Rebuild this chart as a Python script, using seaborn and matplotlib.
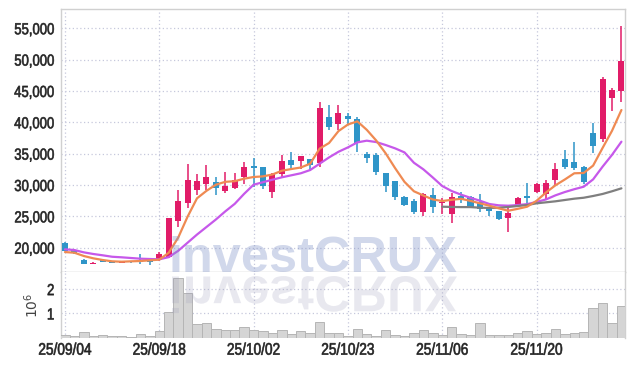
import numpy as np
import matplotlib
matplotlib.use("Agg")
import matplotlib.pyplot as plt
import seaborn as sns
from matplotlib import font_manager
from matplotlib.textpath import TextPath
from matplotlib.patches import PathPatch
from matplotlib.font_manager import FontProperties
from matplotlib.transforms import Affine2D, IdentityTransform
from matplotlib.patheffects import AbstractPathEffect

# ---------------- data ----------------
date_labels = ["25/09/04", "25/09/18", "25/10/02", "25/10/23", "25/11/06", "25/11/20"]
date_label_pos = [0, 10, 20, 30, 40, 50]

opens = [20800, 19700, 18000, 17450, 18100, 17880, 17600, 17800, 18000, 17850,
         18050, 18500, 24300, 27200, 29150, 30150, 30450, 29100, 29600, 31250,
         33050, 32850, 28950, 31700, 34000, 33850, 34150, 33550, 40900, 39800,
         41050, 40550, 34950, 34800, 31850, 30650, 28150, 27450, 25750, 28400,
         27150, 25350, 28300, 28150, 27350, 26300, 25850, 24800, 26700, 28300,
         28950, 28500, 30800, 34150, 33600, 32800, 38350, 37350, 43950, 45050]
highs = [20850, 19750, 18200, 17650, 18250, 17950, 17900, 17950, 18950, 18000,
         19300, 24750, 29200, 33350, 31700, 33250, 31300, 32000, 31900, 33600,
         34250, 32900, 31900, 34750, 35250, 34650, 34200, 43200, 42750, 42750,
         41550, 40800, 35200, 35050, 31900, 30700, 28250, 27700, 28700, 29450,
         27900, 28700, 28900, 28200, 28550, 26550, 25900, 26300, 28100, 30400,
         30400, 30800, 33450, 35600, 36800, 33050, 39850, 47300, 45400, 55350]
lows = [19400, 19050, 17350, 17350, 17650, 17500, 17500, 17600, 17400, 17300,
        17950, 18300, 23250, 26300, 28400, 29200, 28400, 28800, 29300, 30100,
        29750, 29400, 27950, 31300, 32400, 32500, 32300, 32900, 38750, 38750,
        39550, 35300, 33450, 31600, 28950, 27600, 26600, 25300, 25100, 25500,
        25400, 23900, 27100, 26400, 25750, 25050, 24450, 22450, 26600, 26550,
        28650, 27700, 30000, 32550, 32400, 30100, 35050, 36900, 41800, 43200]
closes = [19450, 19100, 17450, 17550, 17800, 17600, 17850, 17700, 17800, 17650,
          19000, 24750, 27450, 30800, 30650, 31250, 29600, 29800, 30800, 32850,
          32700, 29850, 31800, 33850, 33200, 34600, 33200, 42350, 39300, 41550,
          40550, 36750, 34350, 32100, 29850, 28150, 26800, 25700, 28550, 26550,
          27300, 28150, 27700, 26550, 26100, 25850, 24550, 25500, 27950, 28000,
          30150, 30250, 32550, 32900, 32750, 30550, 36200, 46900, 45150, 49800]
volume_mil = [0.10, 0.07, 0.22, 0.07, 0.11, 0.07, 0.06, 0.03, 0.15, 0.07,
              0.26, 1.04, 2.44, 1.86, 0.56, 0.62, 0.36, 0.32, 0.31, 0.43,
              0.31, 0.28, 0.18, 0.31, 0.15, 0.28, 0.19, 0.64, 0.18, 0.18,
              0.07, 0.36, 0.14, 0.09, 0.31, 0.13, 0.09, 0.18, 0.31, 0.18,
              0.10, 0.46, 0.14, 0.10, 0.59, 0.10, 0.10, 0.10, 0.18, 0.26,
              0.15, 0.18, 0.36, 0.14, 0.18, 0.23, 1.21, 1.41, 0.60, 1.29]
ma_short = [19310, 19200, 18680, 18310, 18040, 17830, 17770, 17830, 17880, 17990,
            18100, 19200, 21600, 24950, 27880, 29070, 30050, 30510, 30610, 31010,
            31280, 31380, 31680, 32280, 32550, 32790, 33400, 35800, 36700, 38600,
            39650, 40150, 38800, 37100, 35060, 32700, 30500, 29000, 28330, 27700,
            27450, 27640, 27800, 27470, 27080, 26700, 26280, 25900, 26200, 26540,
            27480, 28800, 29950, 30880, 31870, 31920, 33100, 35900, 38640, 41960]
ma_mid = [19745, 19630, 19260, 19000, 18790, 18560, 18470, 18360, 18250, 18200,
          18150, 18500, 19500, 20800, 22100, 23300, 24500, 25800, 27000, 28600,
          30050, 30450, 30850, 31230, 31550, 31870, 32390, 33400, 34400, 35300,
          36000, 36800, 37070, 36850, 36380, 35850, 35200, 33550, 32500, 31200,
          29840, 29040, 28460, 27960, 27500, 26970, 26760, 26700, 26800, 26950,
          27300, 27700, 28350, 28880, 29330, 29730, 30900, 32920, 34800, 36910]
ma_long_start = 40
ma_long = [26540, 26500, 26480, 26480, 26380, 26350, 26380, 26500, 26650, 26810,
           27080, 27240, 27400, 27610, 27820, 27970, 28250, 28570, 29000, 29470]


# horizontal condensing (and slight emboldening) of real text glyphs
class Condense(AbstractPathEffect):
    def __init__(self, sx=0.85, anchor="center", stroke=0.0):
        super().__init__()
        self.sx = sx
        self.anchor = anchor
        self.stroke = stroke

    def draw_path(self, renderer, gc, tpath, affine, rgbFace=None):
        ext = tpath.get_extents(affine)
        if self.anchor == "right":
            cx = ext.x1
        elif self.anchor == "left":
            cx = ext.x0
        else:
            cx = 0.5 * (ext.x0 + ext.x1)
        aff = affine + Affine2D().translate(-cx, 0).scale(self.sx, 1).translate(cx, 0)
        gc0 = renderer.new_gc()
        gc0.copy_properties(gc)
        gc0.set_linewidth(self.stroke)
        if rgbFace is not None:
            gc0.set_foreground(rgbFace)
        renderer.draw_path(gc0, tpath, aff, rgbFace)
        gc0.restore()


# ---------------- style ----------------
sns.set_theme(style="white")
names = {f.name for f in font_manager.fontManager.ttflist}
if "Liberation Sans Narrow" in names:
    label_font, squeeze = "Liberation Sans Narrow", 1.0
else:
    label_font, squeeze = "Liberation Sans", 0.82
plt.rcParams["font.family"] = [label_font, "DejaVu Sans"]

RED = "#e11c68"
BLUE = "#2f95c8"
GRID = "#c6c8dc"
SPINE = "#d0d0d0"
TXT = "#222222"

W, H = 634, 366
fig = plt.figure(figsize=(W / 100, H / 100), dpi=100)
fig.patch.set_facecolor("white")

L, R = 61.3, 625.0
T1, B1 = 9.0, 272.3
B2 = 337.8
ax = fig.add_axes([L / W, 1 - B1 / H, (R - L) / W, (B1 - T1) / H])
ax2 = fig.add_axes([L / W, 1 - B2 / H, (R - L) / W, (B2 - B1) / H], sharex=ax)

n = len(closes)
idx = np.arange(n)
o = np.array(opens, float)
c = np.array(closes, float)
hi = np.array(highs, float)
lo = np.array(lows, float)
colors = [RED if cc >= oo else BLUE for oo, cc in zip(o, c)]

# wicks and bodies
ax.vlines(idx, lo, hi, colors=colors, linewidth=1.1, zorder=3)
body_h = np.maximum(np.abs(c - o), 140)
body_b = np.minimum(o, c)
ax.bar(idx, body_h, bottom=body_b, width=0.64, color=colors, linewidth=0, zorder=4)

# moving averages
sns.lineplot(x=idx, y=ma_short, ax=ax, color="#ef8a52", linewidth=1.6, zorder=6)
sns.lineplot(x=idx, y=ma_mid, ax=ax, color="#c658ea", linewidth=1.6, zorder=5)
sns.lineplot(x=idx[ma_long_start:], y=ma_long, ax=ax, color="#7f7f7f", linewidth=1.6, zorder=5)

ax.set_xlim(-0.39, 59.38)
ax.set_ylim(16080, 58070)
ax.set_yticks(np.arange(20000, 55001, 5000))
ax.set_yticklabels([f"{v:,}" for v in range(20000, 55001, 5000)])
ax.set_xticks(date_label_pos)
ax.tick_params(axis="x", labelbottom=False, length=0)
ax.tick_params(axis="y", length=0, pad=5, labelsize=11.5, labelcolor=TXT)
ax.grid(True, linestyle=(0, (1, 2)), color=GRID, linewidth=0.9)
ax.set_xlabel("")
ax.set_ylabel("")
for s in ["top", "left", "right"]:
    ax.spines[s].set_color(SPINE)
    ax.spines[s].set_linewidth(1)
ax.spines["bottom"].set_color("#c4c4c4")
ax.spines["bottom"].set_linewidth(1)

# volume
vol = np.array(volume_mil) * 1e6
ax2.bar(idx, vol, width=1.0, color="#d5d5d5", edgecolor="#b5b5b5", linewidth=0.7, zorder=3)
ax2.set_ylim(0, 2.69e6)
ax2.set_yticks([1e6, 2e6])
ax2.set_yticklabels(["1", "2"])
ax2.set_xticks(date_label_pos)
ax2.set_xticklabels(date_labels)
ax2.tick_params(axis="x", length=0, pad=3.5, labelsize=12, labelcolor=TXT)
ax2.tick_params(axis="y", length=0, pad=5, labelsize=11.5, labelcolor=TXT)
ax2.grid(True, linestyle=(0, (1, 2)), color=GRID, linewidth=0.9)
ax2.set_ylabel(r"$10^6$", fontsize=10, color="#444444", labelpad=3)
ax2.spines["top"].set_visible(False)
ax2.spines["bottom"].set_visible(False)
for s in ["left", "right"]:
    ax2.spines[s].set_color(SPINE)
    ax2.spines[s].set_linewidth(1)

for lab in ax.get_yticklabels() + ax2.get_yticklabels():
    lab.set_path_effects([Condense(squeeze, "right", 0.45)])
for lab in ax2.get_xticklabels():
    lab.set_path_effects([Condense(squeeze, "center", 0.45)])

# watermark (text + mirrored reflection)
wm = "investCRUX"
wm_prop = FontProperties(family="Liberation Sans", weight="bold")
tp = TextPath((0, 0), wm, size=100, prop=wm_prop)
ext = tp.get_extents()
x_left, x_right = 172.0, 457.0
em_px = (x_right - x_left) / ext.width * 100
base_y = H - 272.0
fig.text((x_left - ext.x0 * em_px / 100) / W, base_y / H, wm,
         fontsize=em_px * 72 / 100, fontproperties=wm_prop,
         color="#8193c8", alpha=0.36, ha="left", va="baseline", zorder=10)
refl = Affine2D().scale(em_px / 100, -em_px / 100).translate(x_left - ext.x0 * em_px / 100, H - 276.5)
refl_path = refl.transform_path(tp)
fig.add_artist(PathPatch(refl_path, transform=IdentityTransform(),
                         facecolor="#9a9ab8", edgecolor="none", alpha=0.22, zorder=10))

fig.savefig("out.png", dpi=100, facecolor="white")
